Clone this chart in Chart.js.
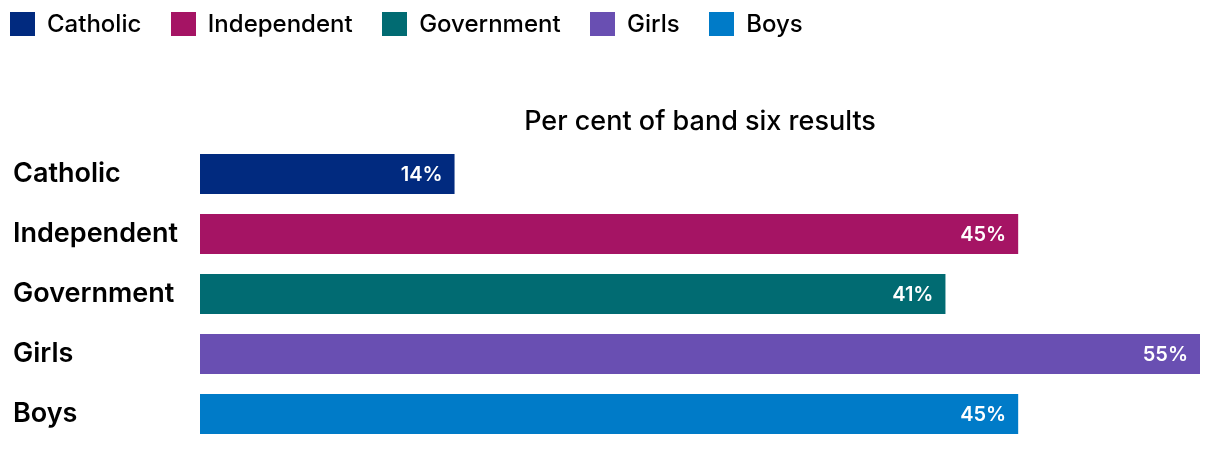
<!DOCTYPE html>
<html>
<head>
<meta charset="utf-8">
<script src="https://cdn.jsdelivr.net/npm/chart.js@4/dist/chart.umd.min.js"></script>
<style>
  html, body { margin: 0; padding: 0; background: #fff; }
  #wrap { width: 1220px; height: 450px; position: relative; }
  #legend { position: absolute; left: 10px; top: 11px; display: flex; align-items: center;
            font-family: Inter, 'Noto Sans', sans-serif; font-size: 24px; font-weight: 500; color: #000; }
  #legend .item { display: flex; align-items: center; margin-right: 29.5px; height: 25px; }
  #legend .box { width: 25px; height: 24px; margin-right: 12px; }
</style>
</head>
<body>
<div id="wrap">
  <canvas id="chart"></canvas>
  <div id="legend"></div>
</div>
<script>
// data
const categories = ["Catholic", "Independent", "Government", "Girls", "Boys"];
const values = [14, 45, 41, 55, 45];
const colors = ["#012a7f", "#a51464", "#016b72", "#694fb2", "#007bc8"];
const axisTitle = "Per cent of band six results";

const FONT = "Inter, 'Noto Sans', sans-serif";

// legend row, one entry per category
const legendEl = document.getElementById('legend');
categories.forEach(function(c, i) {
    const item = document.createElement('div');
    item.className = 'item';
    const box = document.createElement('span');
    box.className = 'box';
    box.style.background = colors[i];
    const label = document.createElement('span');
    label.textContent = c;
    item.appendChild(box);
    item.appendChild(label);
    legendEl.appendChild(item);
});

// white value labels drawn inside the bar ends
const barLabels = {
    id: 'barLabels',
    afterDatasetsDraw(chart) {
        const ctx = chart.ctx;
        const meta = chart.getDatasetMeta(0);
        ctx.save();
        ctx.fillStyle = '#fff';
        ctx.font = '600 20px ' + FONT;
        ctx.textAlign = 'right';
        ctx.textBaseline = 'middle';
        meta.data.forEach(function(bar, i) {
            ctx.fillText(values[i] + '%', bar.x - 12, bar.y + 1);
        });
        ctx.restore();
    }
};

new Chart(document.getElementById('chart'), {
    type: 'bar',
    data: {
        labels: categories,
        datasets: [{
            data: values,
            backgroundColor: colors,
            borderWidth: 0,
            categoryPercentage: 1,
            barPercentage: 40 / 60
        }]
    },
    options: {
        indexAxis: 'y',
        responsive: true,
        maintainAspectRatio: false,
        animation: false,
        layout: { padding: { left: 13, right: 20, top: 0, bottom: 6 } },
        plugins: {
            tooltip: { enabled: false },
            legend: { display: false }
        },
        scales: {
            x: {
                position: 'top',
                min: 0,
                max: 55,
                grid: { display: false },
                border: { display: false },
                ticks: { display: false },
                title: {
                    display: true,
                    text: axisTitle,
                    color: '#000',
                    font: { family: FONT, size: 27, weight: '500' },
                    padding: { top: 106, bottom: 0 }
                },
                afterFit: function(scale) { scale.height = 144; }
            },
            y: {
                grid: { display: false },
                border: { display: false },
                ticks: {
                    color: '#000',
                    crossAlign: 'far',
                    padding: 0,
                    font: { family: FONT, size: 27, weight: '600' }
                },
                afterFit: function(scale) {
                    scale.width = 187;
                    scale.paddingTop = 0;
                    scale.paddingBottom = 0;
                }
            }
        }
    },
    plugins: [barLabels]
});
</script>
</body>
</html>
